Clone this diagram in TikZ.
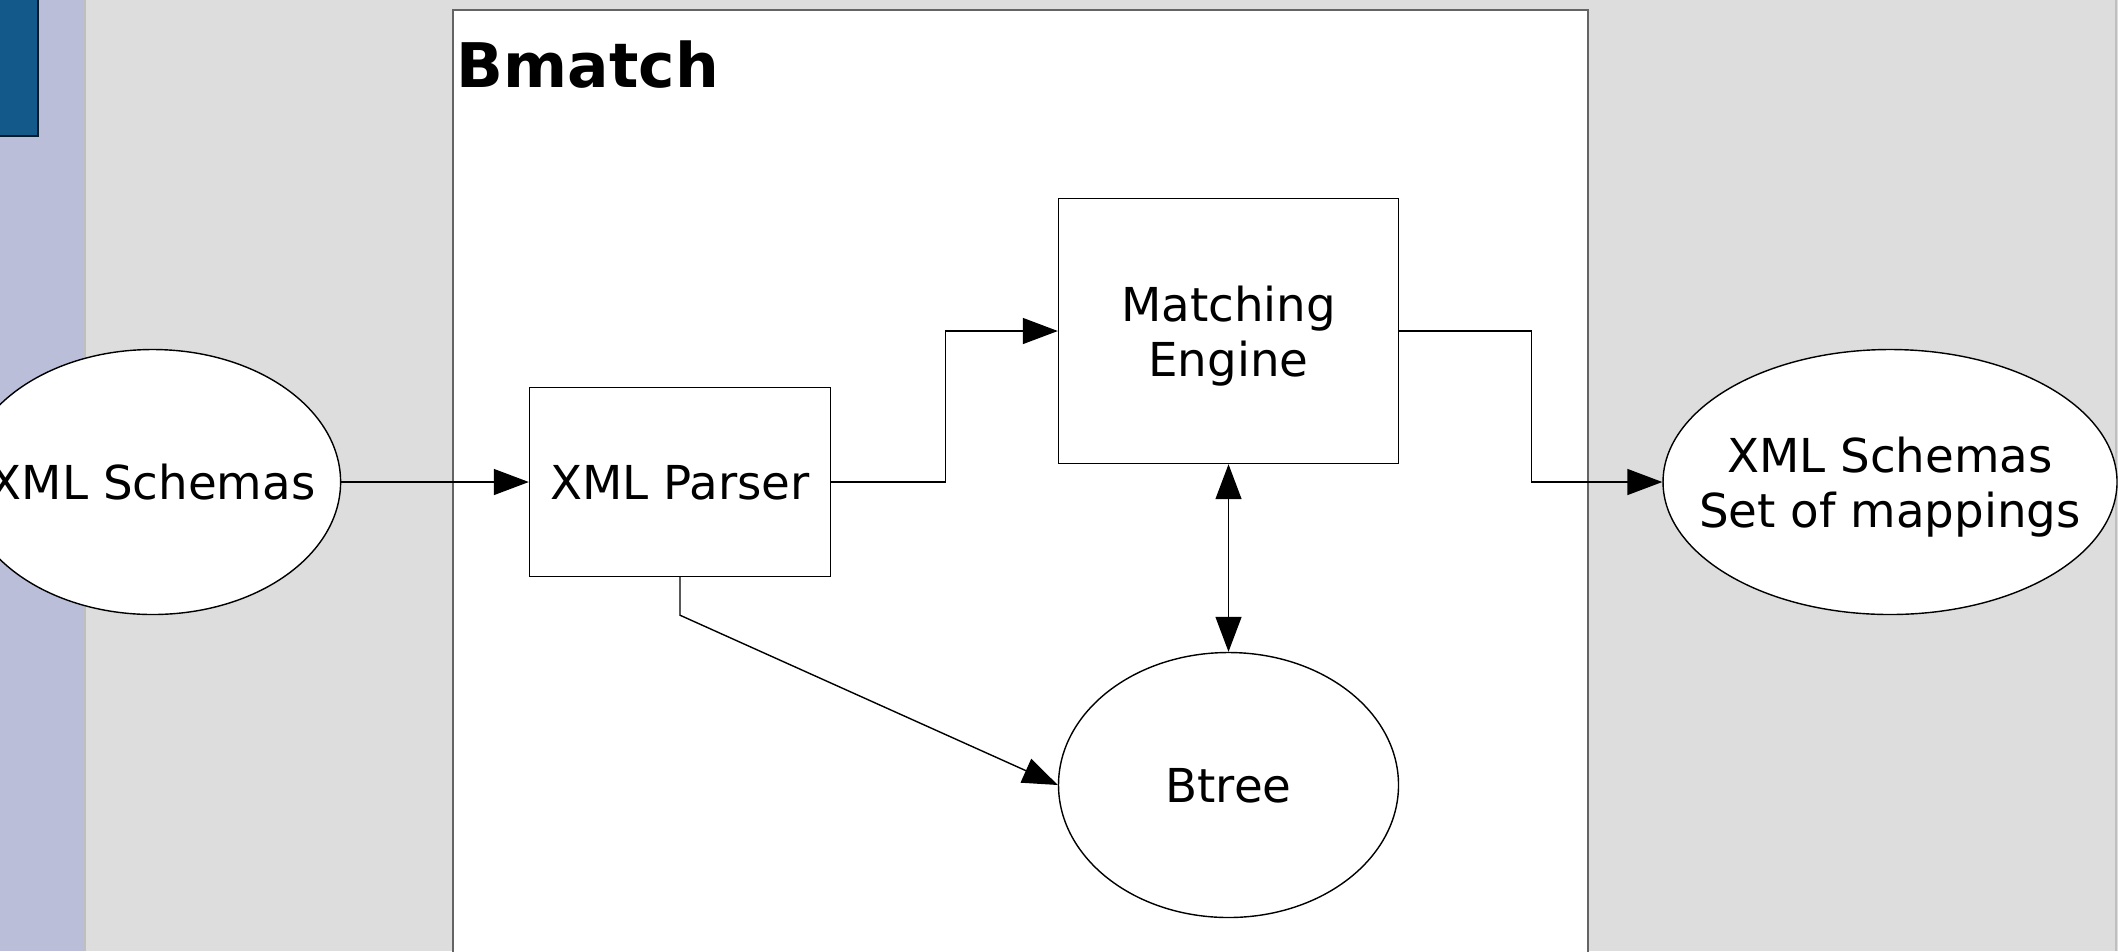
\documentclass[tikz,border=0pt]{standalone}
\usepackage{fontspec}
\setmainfont{DejaVu Sans}
\usetikzlibrary{positioning, arrows.meta, shapes.geometric}
\definecolor{SlideColor}{RGB}{221,221,221}
\definecolor{StripColor}{RGB}{186,190,217}
\definecolor{TabColor}{RGB}{19,90,138}
\definecolor{FrameColor}{RGB}{100,100,100}
\tikzset{
  block/.style={rectangle, draw=black, line width=0.4pt, fill=white, minimum width=#1, minimum height=1.89cm, inner sep=0pt, text depth=0pt, font=\fontsize{13.3}{15.5}\selectfont, align=center},
  store/.style={ellipse, draw=black, line width=0.4pt, fill=white, minimum height=2.65cm, minimum width=#1, inner xsep=-0.6cm, inner ysep=0pt, text depth=0pt, font=\fontsize{13.3}{15.5}\selectfont, align=center},
  flow/.style={line width=0.4pt, -{Triangle[length=3.5mm, width=2.6mm]}},
  flowboth/.style={line width=0.4pt, {Triangle[length=3.5mm, width=2.6mm]}-{Triangle[length=3.5mm, width=2.6mm]}}
}

\begin{document}
\begin{tikzpicture}[x=0.1mm, y=-0.1mm]
  % Slide background
  \fill[SlideColor] (0,0) rectangle (2118,951);
  \useasboundingbox (0,0) rectangle (2118,951);
  \fill[StripColor] (0,0) rectangle (85,951);
  \draw[line width=0.6pt, black!25] (85,0) -- (85,951);
  \draw[line width=0.6pt, black!25] (2116,0) -- (2116,951);
  \filldraw[fill=TabColor, draw=black!70!TabColor, line width=0.5pt] (-5,-5) rectangle (38,136);

  % Bmatch frame
  \filldraw[fill=white, draw=FrameColor, line width=0.6pt] (453,10) -- (1588,10) -- (1588,960) -- (453,960) -- cycle;
  \node[anchor=base west, inner sep=0pt, font=\fontsize{17.5}{21}\selectfont\bfseries] (title) at (456,87) {Bmatch};

  % Components
  \node[store=3.76cm] (schemas) at (152.6,482) {XML Schemas};
  \node[block=3.01cm] (parser) at (680,482) {XML Parser};
  \node[block=3.40cm, minimum height=2.65cm] (engine) at (1228.5,331) {Matching\\Engine};
  \node[store=3.40cm] (btree) at (1228.5,785) {Btree};
  \node[store=4.54cm] (output) at (1890,482) {XML Schemas\\Set of mappings};

  % Connectors
  \draw[flow] (schemas.east) -- (parser.west);
  \draw[flow] (parser.east) -- ++(114,0) |- (engine.west);
  \draw[flow] (engine.east) -- ++(132.5,0) |- (output.west);
  \draw[flowboth] (engine.south) -- (btree.north);
  \draw[flow] (parser.south) -- ++(0,38) -- (btree.west);
\end{tikzpicture}
\end{document}
